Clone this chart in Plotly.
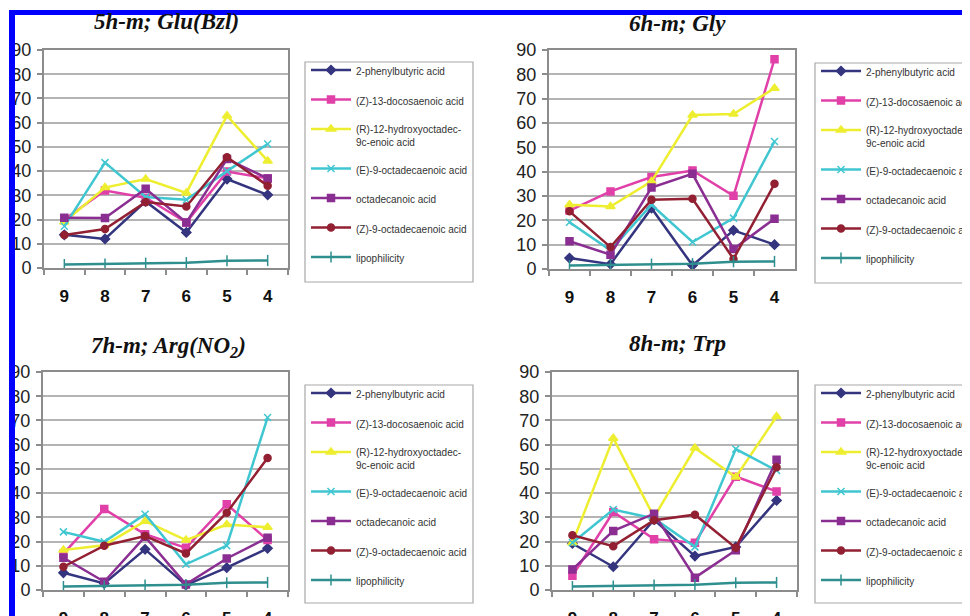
import plotly.graph_objects as go

# The page body has an 8 px margin, so the figure is drawn 8 px smaller and
# every reference pixel coordinate is shifted by that offset.
OFF = 8
W, H = 970 - OFF, 616 - OFF

categories = ["9", "8", "7", "6", "5", "4"]

series_names = [
    "2-phenylbutyric acid",
    "(Z)-13-docosaenoic acid",
    "(R)-12-hydroxyoctadec-<br>9c-enoic acid",
    "(E)-9-octadecaenoic acid",
    "octadecanoic acid",
    "(Z)-9-octadecaenoic acid",
    "lipophilicity",
]

# Panel 5h-m; Glu(Bzl)
glu_phenylbutyric = [13.7, 12.0, 27.5, 14.7, 36.7, 30.2]
glu_docosaenoic = [20.0, 32.0, 29.0, 18.8, 39.8, 37.0]
glu_hydroxyoctadec = [19.0, 33.2, 36.7, 31.0, 62.9, 44.2]
glu_e_octadecaenoic = [17.2, 43.5, 29.3, 28.2, 40.0, 51.2]
glu_octadecanoic = [20.7, 20.6, 32.7, 18.8, 45.0, 37.0]
glu_z_octadecaenoic = [13.6, 16.1, 27.2, 25.4, 45.7, 34.0]

# Panel 6h-m; Gly
gly_phenylbutyric = [4.5, 2.0, 25.0, 1.5, 15.9, 10.0]
gly_docosaenoic = [24.0, 31.9, 37.8, 40.5, 30.1, 86.2]
gly_hydroxyoctadec = [26.4, 25.7, 36.0, 63.3, 63.7, 74.3]
gly_e_octadecaenoic = [19.2, 7.7, 26.4, 11.1, 20.9, 52.4]
gly_octadecanoic = [11.4, 5.9, 33.5, 39.1, 8.2, 20.7]
gly_z_octadecaenoic = [23.7, 9.0, 28.5, 28.9, 4.1, 35.0]

# Panel 7h-m; Arg(NO2)
arg_phenylbutyric = [7.1, 2.7, 16.8, 2.0, 9.2, 17.2]
arg_docosaenoic = [15.0, 33.4, 23.0, 17.4, 35.4, 20.6]
arg_hydroxyoctadec = [16.5, 18.5, 28.4, 20.6, 27.0, 25.9]
arg_e_octadecaenoic = [24.0, 19.9, 31.3, 10.6, 18.3, 71.2]
arg_octadecanoic = [13.3, 3.4, 22.0, 2.3, 13.0, 21.6]
arg_z_octadecaenoic = [9.6, 18.3, 22.3, 15.1, 31.9, 54.5]

# Panel 8h-m; Trp
trp_phenylbutyric = [19.2, 9.6, 29.0, 14.0, 17.8, 37.0]
trp_docosaenoic = [5.9, 32.2, 21.0, 19.5, 46.8, 40.7]
trp_hydroxyoctadec = [19.5, 62.7, 30.1, 58.6, 46.6, 71.6]
trp_e_octadecaenoic = [19.5, 33.2, 29.5, 17.8, 58.2, 49.3]
trp_octadecanoic = [8.5, 24.4, 31.5, 5.1, 16.4, 53.8]
trp_z_octadecaenoic = [22.6, 18.1, 28.8, 31.1, 17.4, 50.7]

lipophilicity = [1.4, 1.6, 2.0, 2.2, 3.0, 3.1]

panel_titles = ["5h-m; Glu(Bzl)", "6h-m; Gly", "7h-m; Arg(NO<sub>2</sub>)", "8h-m; Trp"]
y_ticks = [0, 10, 20, 30, 40, 50, 60, 70, 80, 90]

panels = [
    [glu_phenylbutyric, glu_docosaenoic, glu_hydroxyoctadec, glu_e_octadecaenoic, glu_octadecanoic, glu_z_octadecaenoic, lipophilicity],
    [gly_phenylbutyric, gly_docosaenoic, gly_hydroxyoctadec, gly_e_octadecaenoic, gly_octadecanoic, gly_z_octadecaenoic, lipophilicity],
    [arg_phenylbutyric, arg_docosaenoic, arg_hydroxyoctadec, arg_e_octadecaenoic, arg_octadecanoic, arg_z_octadecaenoic, lipophilicity],
    [trp_phenylbutyric, trp_docosaenoic, trp_hydroxyoctadec, trp_e_octadecaenoic, trp_octadecanoic, trp_z_octadecaenoic, lipophilicity],
]

colors = ["#34347f", "#e040a8", "#eeee30", "#40c6d0", "#8a2e92", "#922032", "#2f8f8f"]
symbols = ["diamond", "square", "triangle-up", "x-thin-open", "square", "circle", "line-ns-open"]
msizes = [7, 7, 8, 7, 7, 7, 8]

# pixel boxes (reference coordinates) of each plot area: (left, right, top, bottom)
boxes = [(44, 288, 50, 268), (549, 795, 50, 269), (43, 288, 372, 590), (552, 797, 372, 590)]
title_pos = [(166, 22), (677, 24), (168, 347), (677, 343)]
legend_boxes = [(305, 473, 62, 282), (815, 990, 63, 283), (305, 473, 385, 603), (815, 990, 385, 603)]


def px(x):
    return (x - OFF) / W


def py(y):
    return 1 - (y - OFF) / H


fig = go.Figure()
legend_ids = ["legend", "legend2", "legend3", "legend4"]

for p in range(4):
    sfx = "" if p == 0 else str(p + 1)
    for s in range(7):
        fig.add_trace(go.Scatter(
            x=categories, y=panels[p][s], name=series_names[s],
            mode="lines+markers",
            line=dict(color=colors[s], width=2.5),
            marker=dict(color=colors[s], symbol=symbols[s], size=msizes[s],
                        line=dict(color=colors[s], width=1.5)),
            xaxis="x" + sfx, yaxis="y" + sfx,
            legend=legend_ids[p], legendgroup=f"g{p}_{s}",
        ))

layout = dict(
    width=W, height=H, margin=dict(l=0, r=0, t=0, b=0, autoexpand=False),
    paper_bgcolor="white", plot_bgcolor="white", showlegend=True,
    font=dict(family="Arial, Liberation Sans", color="#222"),
)

shapes = []
annotations = []
for p in range(4):
    sfx = "" if p == 0 else str(p + 1)
    l, r, t, b = boxes[p]
    layout["xaxis" + sfx] = dict(
        domain=[px(l), px(r)], anchor="y" + sfx, type="category",
        range=[-0.5, 5.5], showgrid=False, zeroline=False,
        showline=True, linecolor="#8c8c8c", linewidth=2, mirror=True,
        ticks="outside", tickson="boundaries", ticklen=5, tickcolor="#8c8c8c", tickwidth=1.5,
        tickfont=dict(family="Arial, Liberation Sans", size=17, color="#111", weight="bold"),
        ticklabelstandoff=12,
    )
    layout["yaxis" + sfx] = dict(
        domain=[py(b), py(t)], anchor="x" + sfx, range=[0, 90],
        tickvals=y_ticks, showgrid=True, gridcolor="#b4b4b4", gridwidth=2,
        zeroline=False, showline=True, linecolor="#8c8c8c", linewidth=2, mirror=True,
        ticks="outside", ticklen=5, tickcolor="#8c8c8c", tickwidth=1.5,
        tickfont=dict(family="Arial, Liberation Sans", size=18, color="#222"),
        ticklabelstandoff=2,
    )
    tx, ty = title_pos[p]
    annotations.append(dict(
        text=f"<b><i>{panel_titles[p]}</i></b>", x=px(tx), y=py(ty),
        xref="paper", yref="paper", showarrow=False, xanchor="center", yanchor="middle",
        font=dict(family="Liberation Serif, Times New Roman", size=23, color="#111"),
    ))
    lx0, lx1, ly0, ly1 = legend_boxes[p]
    shapes.append(dict(type="rect", xref="paper", yref="paper",
                       x0=px(lx0), x1=px(lx1), y0=py(ly1), y1=py(ly0),
                       line=dict(color="#a8a8a8", width=1.2), layer="below"))
    layout[legend_ids[p]] = dict(
        x=px(lx0 + 1), y=py(ly0 - 5), xanchor="left", yanchor="top",
        bgcolor="rgba(0,0,0,0)", borderwidth=0, valign="top",
        font=dict(family="Arial, Liberation Sans", size=10, color="#333"),
        tracegroupgap=10.5, itemwidth=40, itemclick=False,
    )

# blue frame of the scanned figure
shapes.append(dict(type="rect", xref="paper", yref="paper", x0=px(9), x1=px(980),
                   y0=py(15), y1=py(10), fillcolor="#0000ff", line=dict(width=0), layer="above"))
shapes.append(dict(type="rect", xref="paper", yref="paper", x0=px(9), x1=px(15),
                   y0=py(630), y1=py(10), fillcolor="#0000ff", line=dict(width=0), layer="above"))

layout["shapes"] = shapes
layout["annotations"] = annotations
fig.update_layout(**layout)

fig.write_html("out.html")
